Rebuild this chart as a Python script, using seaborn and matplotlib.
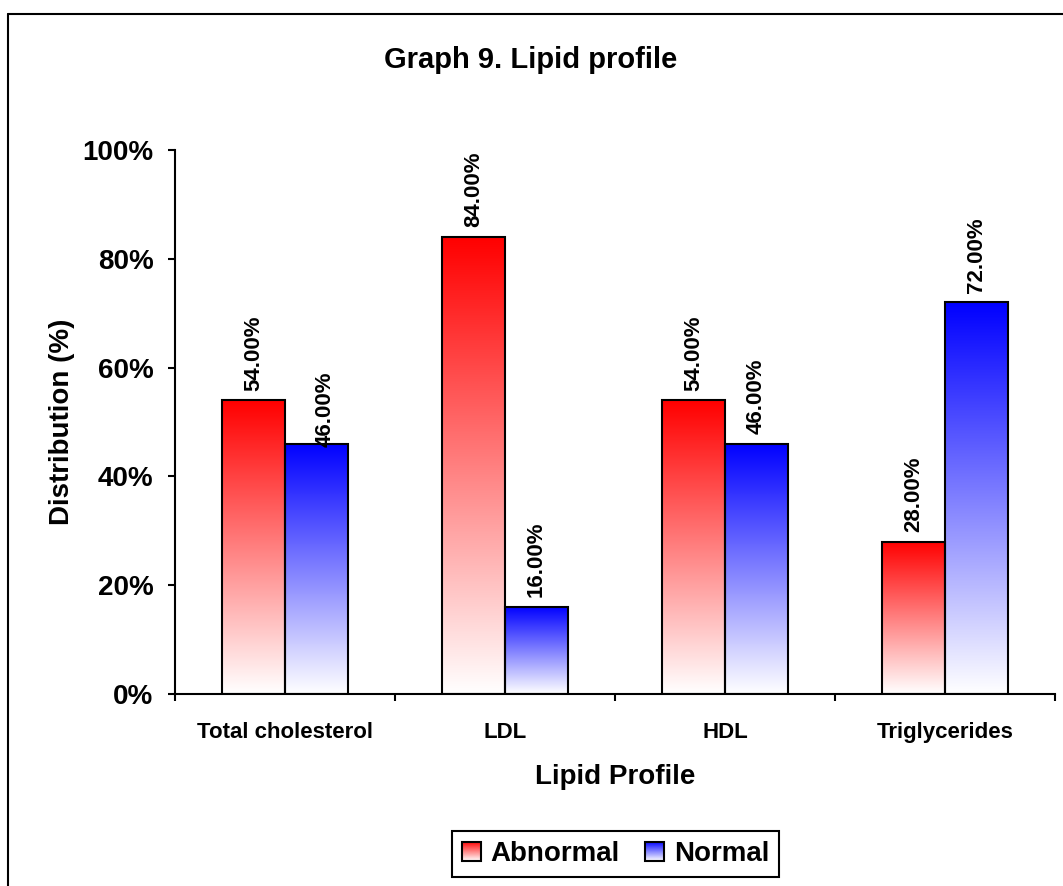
import numpy as np
import pandas as pd
import matplotlib
matplotlib.use("Agg")
import matplotlib.pyplot as plt
import seaborn as sns
from matplotlib.colors import LinearSegmentedColormap, Normalize
from matplotlib.legend_handler import HandlerBase
from matplotlib.image import BboxImage
from matplotlib.transforms import Bbox, TransformedBbox
from matplotlib.patches import Rectangle, Patch
from matplotlib.lines import Line2D
from matplotlib.ticker import PercentFormatter

# ---- data -------------------------------------------------------------
categories = ["Total cholesterol", "LDL", "HDL", "Triglycerides"]
groups = ["Abnormal", "Normal"]
abnormal = [54.0, 84.0, 54.0, 28.0]
normal = [46.0, 16.0, 46.0, 72.0]
yticks = [0, 20, 40, 60, 80, 100]

# ---- style ------------------------------------------------------------
sns.set_theme(style="white")
plt.rcParams["font.family"] = ["Liberation Sans", "DejaVu Sans"]
plt.rcParams["font.weight"] = "bold"
plt.rcParams["text.color"] = "black"
plt.rcParams["axes.labelcolor"] = "black"
plt.rcParams["xtick.color"] = "black"
plt.rcParams["ytick.color"] = "black"

W, H = 1063, 886
fig = plt.figure(figsize=(W / 100, H / 100), dpi=100)
fig.patch.set_facecolor("white")
ax = fig.add_axes([175 / W, 1 - 694 / H, 880 / W, 544 / H])

df = pd.DataFrame({
    "Lipid Profile": categories * 2,
    "Status": [groups[0]] * len(categories) + [groups[1]] * len(categories),
    "Distribution": abnormal + normal,
})

sns.barplot(data=df, x="Lipid Profile", y="Distribution", hue="Status",
            order=categories, hue_order=groups,
            palette=["#FF0000", "#0000FF"], width=0.573, gap=0,
            edgecolor="black", linewidth=1.5, errorbar=None,
            legend=False, ax=ax)

# vertical colour-to-white fills for every bar
cmaps = {
    "Abnormal": LinearSegmentedColormap.from_list("abn", ["#FFFFFF", "#FF0000"]),
    "Normal": LinearSegmentedColormap.from_list("nor", ["#FFFFFF", "#0000FF"]),
}
grad = np.linspace(0, 1, 256)[:, None]
for group, container in zip(groups, ax.containers):
    for bar in container:
        x0, w, h = bar.get_x(), bar.get_width(), bar.get_height()
        ax.imshow(grad, extent=[x0, x0 + w, 0, h], origin="lower",
                  cmap=cmaps[group], norm=Normalize(0, 1), aspect="auto",
                  interpolation="bicubic", zorder=1.5)
        bar.set_facecolor("none")
        bar.set_zorder(2)

ax.set_xlim(-0.5, len(categories) - 0.5)
ax.set_ylim(0, 100)
ax.set_aspect("auto")

# value labels above the bars
nudges = {("Normal", 0): (6.5, -9.0)}
for group, container in zip(groups, ax.containers):
    for i, bar in enumerate(container):
        v = bar.get_height()
        dx, dy = nudges.get((group, i), (0, 0))
        ax.annotate(f"{v:.2f}%", xy=(bar.get_x() + bar.get_width() / 2, v),
                    xytext=(dx, 7 + dy), textcoords="offset points",
                    rotation=90, ha="center", va="bottom",
                    fontsize=16, fontweight="bold", color="black", zorder=3)

# axes styling
for side in ("top", "right"):
    ax.spines[side].set_visible(False)
for side in ("left", "bottom"):
    ax.spines[side].set_color("black")
    ax.spines[side].set_linewidth(1.5)

ax.set_yticks(yticks)
ax.yaxis.set_major_formatter(PercentFormatter(100, decimals=0))
ax.tick_params(axis="y", left=True, direction="out", length=5, width=1.5,
               color="black", pad=10.5, labelsize=20, labelcolor="black")
for t in ax.get_yticklabels():
    t.set_fontweight("bold")

ax.set_xticks(np.arange(len(categories)))
ax.set_xticklabels(categories, fontsize=16, fontweight="bold", color="black")
ax.set_xticks(np.arange(len(categories) + 1) - 0.5, minor=True)
ax.tick_params(axis="x", which="major", bottom=True, length=0, pad=20)
ax.tick_params(axis="x", which="minor", bottom=True, direction="out",
               length=5, width=1.5, color="black")

ax.set_xlabel("Lipid Profile", fontsize=20, fontweight="bold", color="black")
ax.xaxis.set_label_coords(0.5, -0.128)
ax.set_ylabel("Distribution (%)", fontsize=20, fontweight="bold", color="black")
ax.yaxis.set_label_coords(-0.114, 0.5)

fig.text(531 / W, 1 - 60 / H, "Graph 9. Lipid profile", ha="center",
         va="center", fontsize=21, fontweight="bold", color="black")


# legend with gradient swatches
class GradientSquare(HandlerBase):
    def __init__(self, cmap):
        super().__init__()
        self.cmap = cmap

    def create_artists(self, legend, orig_handle, xdescent, ydescent,
                       width, height, fontsize, trans):
        side = min(width, height)
        x0 = -xdescent + (width - side) / 2
        y0 = -ydescent + (height - side) / 2
        bb = TransformedBbox(Bbox.from_bounds(x0, y0, side, side), trans)
        img = BboxImage(bb, cmap=self.cmap, norm=Normalize(0, 1),
                        interpolation="bicubic", origin="lower")
        img.set_data(np.linspace(0, 1, 64)[:, None])
        rect = Rectangle((x0, y0), side, side, facecolor="none",
                         edgecolor="black", linewidth=1.5, transform=trans)
        return [img, rect]


handles = [Patch(facecolor="#FF0000", label=groups[0]),
           Patch(facecolor="#0000FF", label=groups[1])]
leg = fig.legend(handles=handles,
                 handler_map={handles[0]: GradientSquare(cmaps["Abnormal"]),
                              handles[1]: GradientSquare(cmaps["Normal"])},
                 loc="center", bbox_to_anchor=(615.5 / W, 1 - 854 / H),
                 ncol=2, prop={"weight": "bold", "size": 20},
                 labelcolor="black",
                 handlelength=0.7, handleheight=0.7, handletextpad=0.35,
                 columnspacing=0.9, borderpad=0.35, fancybox=False,
                 framealpha=1, edgecolor="black")
leg.get_frame().set_linewidth(1.5)

# outer chart frame
fig.add_artist(Line2D([8 / W, 8 / W], [0, 1 - 14 / H], transform=fig.transFigure,
                      color="black", linewidth=1.5))
fig.add_artist(Line2D([8 / W, 1], [1 - 14 / H, 1 - 14 / H], transform=fig.transFigure,
                      color="black", linewidth=1.5))

fig.savefig("out.png", dpi=100, facecolor="white")
